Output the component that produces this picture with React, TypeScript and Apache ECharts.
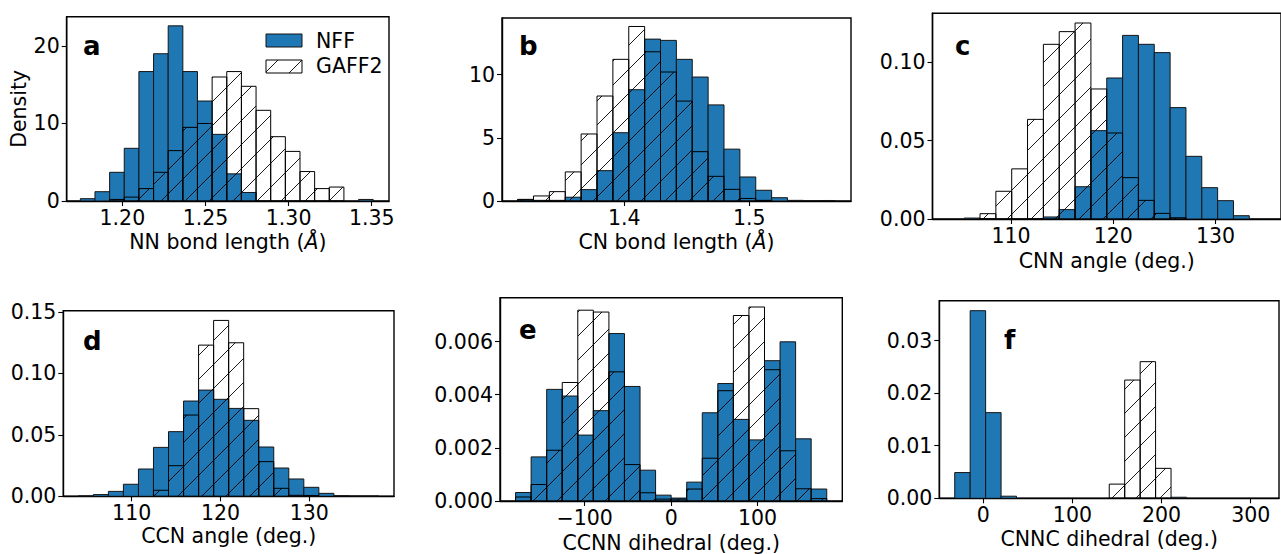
import { useEffect, useRef } from "react";
import * as echarts from "echarts";

// ---------- data (densities) ----------
// panel a: NN bond length
const aBinStart = 1.1747;
const aBinWidth = 0.00881;
const aNff = [0.3, 1.2, 3.7, 6.8, 16.7, 19.0, 22.6, 16.7, 12.9, 8.6, 3.5, 1.1, 0, 0, 0, 0, 0, 0, 0, 0.2];
const aGaff = [0, 0, 0.2, 0.5, 1.6, 3.7, 6.5, 9.5, 10.0, 16.0, 16.7, 14.8, 11.7, 8.3, 6.4, 3.8, 1.6, 1.8, 0, 0];
const aXTicks = [1.2, 1.25, 1.3, 1.35];
const aYTicks = [0, 10, 20];

// panel b: CN bond length
const bBinStart = 1.3147;
const bBinWidth = 0.0127;
const bNff = [0.13, 0.05, 0.05, 0.3, 0.9, 2.4, 5.4, 8.8, 12.8, 12.7, 11.2, 9.8, 7.6, 4.1, 1.9, 0.85, 0.26, 0.05, 0.02, 0.04];
const bGaff = [0.1, 0.4, 0.74, 2.3, 5.3, 8.3, 11.2, 13.8, 11.8, 10.2, 7.9, 3.9, 1.95, 0.92, 0.2, 0.05, 0, 0, 0, 0];
const bXTicks = [1.4, 1.5];
const bYTicks = [0, 5, 10];

// panel c: CNN angle
const cBinStart = 103.86;
const cBinWidth = 1.55;
const cNff = [0, 0.0006, 0.0003, 0, 0, 0.0002, 0.0013, 0.006, 0.0206, 0.0564, 0.09, 0.1172, 0.1115, 0.1062, 0.0711, 0.04, 0.02, 0.0117, 0.0021, 0];
const cGaff = [0, 0, 0.0034, 0.0177, 0.032, 0.0636, 0.1115, 0.1196, 0.1251, 0.083, 0.0549, 0.0264, 0.0119, 0.0036, 0.0008, 0, 0, 0, 0, 0];
const cXTicks = [110, 120, 130];
const cYTicks = [0, 0.05, 0.1];

// panel d: CCN angle
const dBinStart = 103.99;
const dBinWidth = 1.693;
const dNff = [0.0003, 0.0014, 0.004, 0.0098, 0.0222, 0.0398, 0.0526, 0.0775, 0.0864, 0.0789, 0.0715, 0.0618, 0.0401, 0.023, 0.0141, 0.0073, 0.0024, 0.0005, 0.0002, 0.0002];
const dGaff = [0, 0, 0, 0, 0, 0.0049, 0.0249, 0.0661, 0.123, 0.1431, 0.1249, 0.0713, 0.0282, 0.0065, 0.0008, 0.0007, 0, 0, 0, 0];
const dXTicks = [110, 120, 130];
const dYTicks = [0, 0.05, 0.1, 0.15];

// panel e: CCNN dihedral
const eBinStart = -180;
const eBinWidth = 18;
const eNff = [0.00032, 0.00166, 0.0042, 0.00395, 0.00248, 0.0034, 0.0063, 0.00431, 0.00116, 0.00022, 0.00011, 0.00071, 0.00332, 0.00442, 0.00307, 0.0023, 0.00528, 0.00599, 0.00234, 0.00045];
const eGaff = [0.00015, 0.00062, 0.00191, 0.00446, 0.00718, 0.00711, 0.00486, 0.00137, 0.00031, 0.00007, 0.00007, 0.00045, 0.00161, 0.00415, 0.00698, 0.0073, 0.00494, 0.00189, 0.00046, 0.00009];
const eXTicks = [-100, 0, 100];
const eYTicks = [0, 0.002, 0.004, 0.006];

// panel f: CNNC dihedral
const fBinStart = -32;
const fBinWidth = 17.33;
const fNff = [0.0049, 0.0357, 0.0163, 0.0004, 0, 0, 0, 0, 0, 0, 0, 0, 0, 0, 0.0002, 0, 0, 0, 0, 0];
const fGaff = [0, 0, 0, 0, 0, 0, 0, 0, 0, 0, 0.0027, 0.0225, 0.026, 0.0057, 0, 0, 0, 0, 0, 0];
const fXTicks = [0, 100, 200, 300];
const fYTicks = [0, 0.01, 0.02, 0.03];

const seriesNames = ["NFF", "GAFF2"];
const panelLetters = ["a", "b", "c", "d", "e", "f"];
const xNames = [
  "NN bond length ({i|Å})",
  "CN bond length ({i|Å})",
  "CNN angle (deg.)",
  "CCN angle (deg.)",
  "CCNN dihedral (deg.)",
  "CNNC dihedral (deg.)",
];
const yName = "Density";

// ---------- styling / layout ----------
const FONT = "DejaVu Sans";
const FS = 20.5;
const BLUE = "#1f77b4";
const HATCH = 24;
const HATCH_PHASE = 2;

type Panel = {
  start: number; width: number; nff: number[]; gaff: number[];
  xTicks: number[]; yTicks: number[];
  xMin: number; xMax: number; yMax: number;
  grid: { left: number; top: number; width: number; height: number };
  xDec: number; yDec: number; nameGap: number;
  letter: [number, number];
};

const panels: Panel[] = [
  { start: aBinStart, width: aBinWidth, nff: aNff, gaff: aGaff, xTicks: aXTicks, yTicks: aYTicks,
    xMin: 1.1665, xMax: 1.3604, yMax: 23.78, grid: { left: 66.7, top: 16.7, width: 322.3, height: 184.3 },
    xDec: 2, yDec: 0, nameGap: 30, letter: [83, 46] },
  { start: bBinStart, width: bBinWidth, nff: bNff, gaff: bGaff, xTicks: bXTicks, yTicks: bYTicks,
    xMin: 1.3022, xMax: 1.5814, yMax: 14.47, grid: { left: 502, top: 18, width: 349, height: 183 },
    xDec: 1, yDec: 0, nameGap: 30, letter: [519, 46] },
  { start: cBinStart, width: cBinWidth, nff: cNff, gaff: cGaff, xTicks: cXTicks, yTicks: cYTicks,
    xMin: 102.31, xMax: 136.41, yMax: 0.1313, grid: { left: 932.5, top: 13.3, width: 354.5, height: 205.7 },
    xDec: 0, yDec: 2, nameGap: 31, letter: [955, 46] },
  { start: dBinStart, width: dBinWidth, nff: dNff, gaff: dGaff, xTicks: dXTicks, yTicks: dYTicks,
    xMin: 102.3, xMax: 139.54, yMax: 0.151, grid: { left: 63.3, top: 310.7, width: 330.7, height: 185.6 },
    xDec: 0, yDec: 2, nameGap: 29, letter: [83, 341] },
  { start: eBinStart, width: eBinWidth, nff: eNff, gaff: eGaff, xTicks: eXTicks, yTicks: eYTicks,
    xMin: -198, xMax: 198, yMax: 0.00765, grid: { left: 500, top: 297.7, width: 342.3, height: 205.3 },
    xDec: 0, yDec: 3, nameGap: 31, letter: [519, 330] },
  { start: fBinStart, width: fBinWidth, nff: fNff, gaff: fGaff, xTicks: fXTicks, yTicks: fYTicks,
    xMin: -49.3, xMax: 331.7, yMax: 0.0376, grid: { left: 939.3, top: 300.7, width: 339.7, height: 197.6 },
    xDec: 0, yDec: 2, nameGap: 30, letter: [1004, 340] },
];

const toBins = (start: number, w: number, vals: number[]) =>
  vals.map((v, i) => [start + i * w, start + (i + 1) * w, v]).filter((d) => d[2] > 0);

const fmt = (v: number, dec: number) => {
  const s = Math.abs(v).toFixed(dec);
  return v < 0 ? "\u2212" + s : s;
};

const rectOf = (api: any) => {
  const p0 = api.coord([api.value(0), api.value(2)]);
  const p1 = api.coord([api.value(1), 0]);
  return { x: p0[0], y: p0[1], width: p1[0] - p0[0], height: p1[1] - p0[1] };
};

const hatchLines = (x0: number, y0: number, x1: number, y1: number, lw: number) => {
  const out: any[] = [];
  let c = Math.ceil((x0 + y0 - HATCH_PHASE) / HATCH) * HATCH + HATCH_PHASE;
  for (; c < x1 + y1; c += HATCH) {
    const xa = Math.max(x0, c - y1);
    const xb = Math.min(x1, c - y0);
    if (xb > xa) {
      out.push({ type: "line", shape: { x1: xa, y1: c - xa, x2: xb, y2: c - xb }, style: { stroke: "#000", lineWidth: lw } });
    }
  }
  return out;
};

const renderNff = (_p: any, api: any) => {
  const r = rectOf(api);
  return { type: "rect", shape: r, style: { fill: BLUE, stroke: "#151515", lineWidth: 1 } };
};

const renderGaff = (_p: any, api: any) => {
  const r = rectOf(api);
  const children = hatchLines(r.x, r.y, r.x + r.width, r.y + r.height, 0.9);
  children.push({ type: "rect", shape: r, style: { fill: "none", stroke: "#000", lineWidth: 1 } });
  return { type: "group", children };
};

export default function App() {
  const ref = useRef<HTMLDivElement>(null);
  useEffect(() => {
    if (!ref.current) return;
    const chart = echarts.init(ref.current, undefined, { renderer: "svg" });
    const textBase = { fontFamily: FONT, fontSize: FS, color: "#000" };

    const grids = panels.map((p) => ({
      ...p.grid, show: true, borderColor: "#000", borderWidth: 1.4, backgroundColor: "transparent", containLabel: false,
    }));
    const xAxes = panels.map((p, i) => ({
      type: "value", gridIndex: i, min: p.xMin, max: p.xMax,
      name: xNames[i], nameLocation: "middle", nameGap: p.nameGap,
      nameTextStyle: { ...textBase, rich: { i: { ...textBase, fontStyle: "italic" } } },
      axisLine: { show: true, onZero: false, lineStyle: { color: "#000", width: 1.4 } },
      axisTick: { show: true, length: 5, customValues: p.xTicks, lineStyle: { color: "#000", width: 1.1 } },
      axisLabel: { ...textBase, margin: 6, customValues: p.xTicks, formatter: (v: number) => fmt(v, p.xDec) },
      splitLine: { show: false },
    }));
    const yAxes = panels.map((p, i) => ({
      type: "value", gridIndex: i, min: 0, max: p.yMax,
      name: i === 0 ? yName : "", nameLocation: "middle", nameGap: 37, nameRotate: 90,
      nameTextStyle: { ...textBase },
      axisLine: { show: true, onZero: false, lineStyle: { color: "#000", width: 1.4 } },
      axisTick: { show: true, length: 5, customValues: p.yTicks, lineStyle: { color: "#000", width: 1.1 } },
      axisLabel: { ...textBase, margin: 7, customValues: p.yTicks, formatter: (v: number) => fmt(v, p.yDec) },
      splitLine: { show: false },
    }));
    const series: any[] = [];
    panels.forEach((p, i) => {
      series.push({
        type: "custom", name: seriesNames[0], xAxisIndex: i, yAxisIndex: i, clip: true,
        data: toBins(p.start, p.width, p.nff), renderItem: renderNff, encode: { x: [0, 1], y: 2 },
      });
      series.push({
        type: "custom", name: seriesNames[1], xAxisIndex: i, yAxisIndex: i, clip: true,
        data: toBins(p.start, p.width, p.gaff), renderItem: renderGaff, encode: { x: [0, 1], y: 2 },
      });
    });

    const letters = panels.map((p, i) => ({
      type: "text", x: p.letter[0], y: p.letter[1], z: 100,
      style: { text: panelLetters[i], font: `bold 26px '${FONT}'`, fill: "#000", align: "left", verticalAlign: "middle" },
    }));
    const legendHatch = hatchLines(266, 60, 302, 73, 0.9);
    const legend = {
      type: "group", z: 100,
      children: [
        { type: "rect", shape: { x: 266, y: 34, width: 36, height: 13 }, style: { fill: BLUE, stroke: "#151515", lineWidth: 1 } },
        { type: "text", x: 316, y: 41, style: { text: seriesNames[0], font: `${FS}px '${FONT}'`, fill: "#000", verticalAlign: "middle" } },
        ...legendHatch,
        { type: "rect", shape: { x: 266, y: 60, width: 36, height: 13 }, style: { fill: "none", stroke: "#000", lineWidth: 1 } },
        { type: "text", x: 316, y: 66, style: { text: seriesNames[1], font: `${FS}px '${FONT}'`, fill: "#000", verticalAlign: "middle" } },
      ],
    };

    chart.setOption({
      animation: false,
      backgroundColor: "#fff",
      grid: grids,
      xAxis: xAxes,
      yAxis: yAxes,
      series,
      graphic: [...letters, legend],
    });
    return () => chart.dispose();
  }, []);
  return (
    <div
      ref={ref}
      style={{ position: "absolute", left: 0, top: 0, width: 1281, height: 554, overflow: "hidden" }}
    />
  );
}
